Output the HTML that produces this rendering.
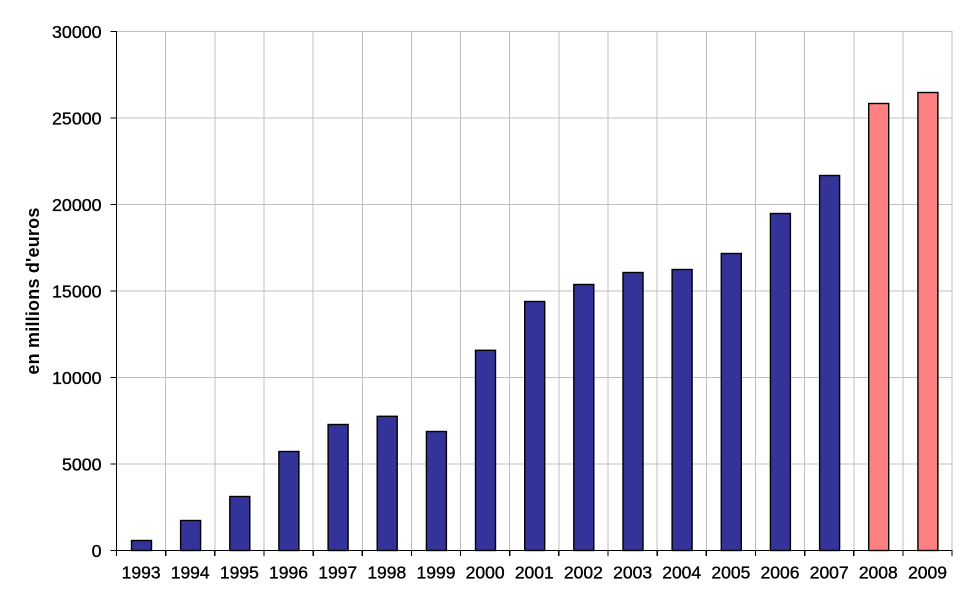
<!DOCTYPE html>
<html>
<head>
<meta charset="utf-8">
<style>
html,body{margin:0;padding:0;background:#fff;}
svg{display:block;}
text{font-family:"Liberation Sans",Arial,sans-serif;fill:#000;}
</style>
</head>
<body>
<svg width="968" height="603" viewBox="0 0 968 603" xmlns="http://www.w3.org/2000/svg">
<rect x="0" y="0" width="968" height="603" fill="#fff"/>
<!-- horizontal gridlines -->
<g stroke="#c0c0c0" stroke-width="1" shape-rendering="crispEdges">
<line x1="116.5" y1="464" x2="952.5" y2="464"/>
<line x1="116.5" y1="377.5" x2="952.5" y2="377.5"/>
<line x1="116.5" y1="291" x2="952.5" y2="291"/>
<line x1="116.5" y1="204.5" x2="952.5" y2="204.5"/>
<line x1="116.5" y1="118" x2="952.5" y2="118"/>
<line x1="116.5" y1="31.5" x2="952.5" y2="31.5"/>
<!-- vertical gridlines -->
<line x1="165.65" y1="31.5" x2="165.65" y2="550.5"/>
<line x1="214.8" y1="31.5" x2="214.8" y2="550.5"/>
<line x1="263.95" y1="31.5" x2="263.95" y2="550.5"/>
<line x1="313.1" y1="31.5" x2="313.1" y2="550.5"/>
<line x1="362.25" y1="31.5" x2="362.25" y2="550.5"/>
<line x1="411.4" y1="31.5" x2="411.4" y2="550.5"/>
<line x1="460.55" y1="31.5" x2="460.55" y2="550.5"/>
<line x1="509.7" y1="31.5" x2="509.7" y2="550.5"/>
<line x1="558.85" y1="31.5" x2="558.85" y2="550.5"/>
<line x1="608" y1="31.5" x2="608" y2="550.5"/>
<line x1="657.15" y1="31.5" x2="657.15" y2="550.5"/>
<line x1="706.3" y1="31.5" x2="706.3" y2="550.5"/>
<line x1="755.45" y1="31.5" x2="755.45" y2="550.5"/>
<line x1="804.6" y1="31.5" x2="804.6" y2="550.5"/>
<line x1="853.75" y1="31.5" x2="853.75" y2="550.5"/>
<line x1="902.9" y1="31.5" x2="902.9" y2="550.5"/>
<line x1="952.05" y1="31.5" x2="952.05" y2="550.5"/>
</g>
<!-- bars -->
<g stroke="#000" stroke-width="1.4">
<rect x="131.5" y="540.5" width="20" height="10" fill="#333399"/>
<rect x="180.6" y="520.5" width="20" height="30" fill="#333399"/>
<rect x="229.8" y="496.5" width="20" height="54" fill="#333399"/>
<rect x="278.9" y="451.5" width="20" height="99" fill="#333399"/>
<rect x="328.1" y="424.5" width="20" height="126" fill="#333399"/>
<rect x="377.2" y="416.3" width="20" height="134.2" fill="#333399"/>
<rect x="426.4" y="431.5" width="20" height="119" fill="#333399"/>
<rect x="475.5" y="350.3" width="20" height="200.2" fill="#333399"/>
<rect x="524.7" y="301.5" width="20" height="249" fill="#333399"/>
<rect x="573.8" y="284.5" width="20" height="266" fill="#333399"/>
<rect x="623" y="272.5" width="20" height="278" fill="#333399"/>
<rect x="672.1" y="269.5" width="20" height="281" fill="#333399"/>
<rect x="721.3" y="253.5" width="20" height="297" fill="#333399"/>
<rect x="770.4" y="213.5" width="20" height="337" fill="#333399"/>
<rect x="819.6" y="175.5" width="20" height="375" fill="#333399"/>
<rect x="868.7" y="103.5" width="20" height="447" fill="#ff8080"/>
<rect x="917.9" y="92.5" width="20" height="458" fill="#ff8080"/>
</g>
<!-- axes -->
<g stroke="#000" stroke-width="1.3" shape-rendering="crispEdges">
<line x1="116.5" y1="31" x2="116.5" y2="551"/>
<line x1="116" y1="550.5" x2="952.5" y2="550.5"/>
<line x1="110.5" y1="550.5" x2="116.5" y2="550.5"/>
<line x1="110.5" y1="464" x2="116.5" y2="464"/>
<line x1="110.5" y1="377.5" x2="116.5" y2="377.5"/>
<line x1="110.5" y1="291" x2="116.5" y2="291"/>
<line x1="110.5" y1="204.5" x2="116.5" y2="204.5"/>
<line x1="110.5" y1="118" x2="116.5" y2="118"/>
<line x1="110.5" y1="31.5" x2="116.5" y2="31.5"/>
<line x1="116.5" y1="550" x2="116.5" y2="556"/>
<line x1="165.65" y1="550" x2="165.65" y2="556"/>
<line x1="214.8" y1="550" x2="214.8" y2="556"/>
<line x1="263.95" y1="550" x2="263.95" y2="556"/>
<line x1="313.1" y1="550" x2="313.1" y2="556"/>
<line x1="362.25" y1="550" x2="362.25" y2="556"/>
<line x1="411.4" y1="550" x2="411.4" y2="556"/>
<line x1="460.55" y1="550" x2="460.55" y2="556"/>
<line x1="509.7" y1="550" x2="509.7" y2="556"/>
<line x1="558.85" y1="550" x2="558.85" y2="556"/>
<line x1="608" y1="550" x2="608" y2="556"/>
<line x1="657.15" y1="550" x2="657.15" y2="556"/>
<line x1="706.3" y1="550" x2="706.3" y2="556"/>
<line x1="755.45" y1="550" x2="755.45" y2="556"/>
<line x1="804.6" y1="550" x2="804.6" y2="556"/>
<line x1="853.75" y1="550" x2="853.75" y2="556"/>
<line x1="902.9" y1="550" x2="902.9" y2="556"/>
<line x1="952.05" y1="550" x2="952.05" y2="556"/>
</g>
<!-- y tick labels -->
<g font-size="17.8" text-anchor="end" stroke="#000" stroke-width="0.35">
<text x="101.5" y="557">0</text>
<text x="101.5" y="470.5">5000</text>
<text x="101.5" y="384">10000</text>
<text x="101.5" y="297.5">15000</text>
<text x="101.5" y="211">20000</text>
<text x="101.5" y="124.5">25000</text>
<text x="101.5" y="38">30000</text>
</g>
<!-- x tick labels -->
<g font-size="17.5" text-anchor="middle" stroke="#000" stroke-width="0.35">
<text x="141.1" y="578.5">1993</text>
<text x="190.2" y="578.5">1994</text>
<text x="239.4" y="578.5">1995</text>
<text x="288.5" y="578.5">1996</text>
<text x="337.7" y="578.5">1997</text>
<text x="386.8" y="578.5">1998</text>
<text x="436" y="578.5">1999</text>
<text x="485.1" y="578.5">2000</text>
<text x="534.3" y="578.5">2001</text>
<text x="583.4" y="578.5">2002</text>
<text x="632.6" y="578.5">2003</text>
<text x="681.7" y="578.5">2004</text>
<text x="730.9" y="578.5">2005</text>
<text x="780" y="578.5">2006</text>
<text x="829.2" y="578.5">2007</text>
<text x="878.3" y="578.5">2008</text>
<text x="927.5" y="578.5">2009</text>
</g>
<!-- y axis title -->
<text x="0" y="0" font-size="18" font-weight="bold" letter-spacing="0.2" text-anchor="middle" transform="translate(39,291) rotate(-90)">en millions d'euros</text>
</svg>
</body>
</html>
